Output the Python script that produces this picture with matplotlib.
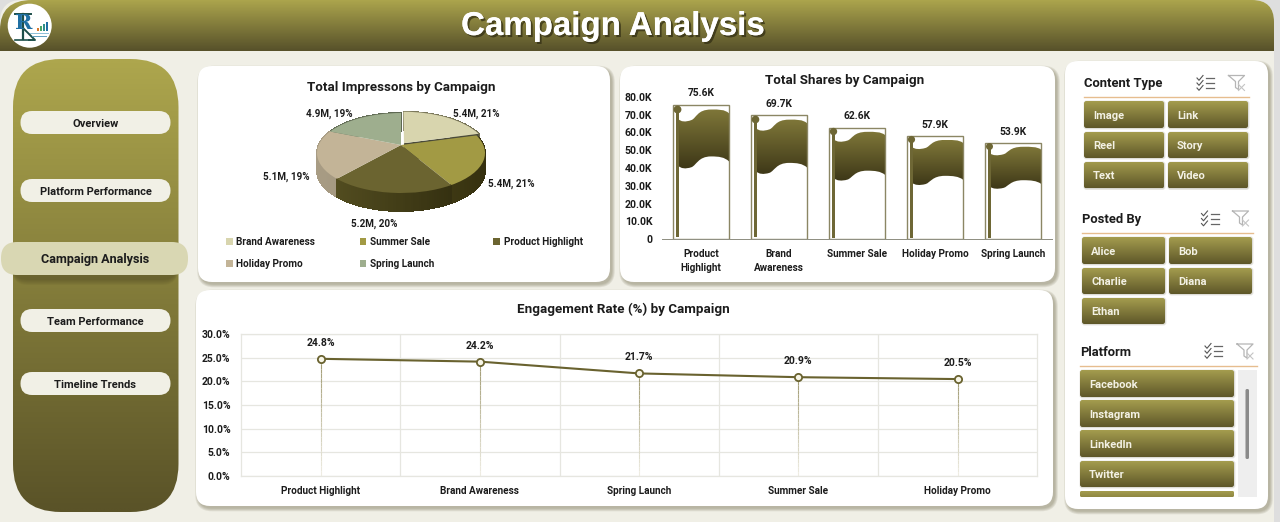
import numpy as np
import matplotlib
matplotlib.use("Agg")
import matplotlib.pyplot as plt
from matplotlib.patches import FancyBboxPatch, Rectangle, Circle, PathPatch
from matplotlib.path import Path
from matplotlib.transforms import Transform
from matplotlib.collections import PolyCollection, LineCollection
from matplotlib.colors import to_rgb
from matplotlib.legend import Legend
import matplotlib.patheffects as pe

# ---------- data ----------
pie_campaigns = ["Brand Awareness", "Summer Sale", "Product Highlight", "Holiday Promo", "Spring Launch"]
pie_millions = [5.4, 5.4, 5.2, 5.1, 4.9]
pie_percent = [21, 21, 20, 19, 19]
share_campaigns = ["Product\nHighlight", "Brand\nAwareness", "Summer Sale", "Holiday Promo", "Spring Launch"]
share_values = [75600, 69700, 62600, 57900, 53900]
rate_campaigns = ["Product Highlight", "Brand Awareness", "Spring Launch", "Summer Sale", "Holiday Promo"]
rate_values = [24.8, 24.2, 21.7, 20.9, 20.5]
nav_items = ["Overview", "Platform Performance", "Campaign Analysis", "Team Performance", "Timeline Trends"]
content_types = ["Image", "Link", "Reel", "Story", "Text", "Video"]
posted_by = ["Alice", "Bob", "Charlie", "Diana", "Ethan"]
platforms = ["Facebook", "Instagram", "LinkedIn", "Twitter"]

W, H = 1280, 522
FONT = "Roboto"
plt.rcParams["font.family"] = [FONT, "DejaVu Sans"]
INK = "#1c1c1c"

fig = plt.figure(figsize=(W / 100, H / 100), dpi=100, facecolor="#dedede")


def axes_px(x0, y0, x1, y1, **kw):
    return fig.add_axes([x0 / W, 1 - y1 / H, (x1 - x0) / W, (y1 - y0) / H], **kw)


cv = axes_px(0, 0, W, H)
cv.set_xlim(0, W)
cv.set_ylim(H, 0)
cv.axis("off")


def vgrad(c0, c1, n=64):
    a, b = np.array(to_rgb(c0)), np.array(to_rgb(c1))
    t = np.linspace(0, 1, n)[:, None, None]
    return a[None, None, :] * (1 - t) + b[None, None, :] * t


def rbox(x0, y0, x1, y1, r, **kw):
    p = FancyBboxPatch((x0, y0), x1 - x0, y1 - y0,
                       boxstyle=f"round,pad=0,rounding_size={r}", linewidth=0, **kw)
    cv.add_patch(p)
    return p


def gbox(x0, y0, x1, y1, r, c0, c1, z=2):
    p = rbox(x0, y0, x1, y1, r, facecolor="none", zorder=z)
    im = cv.imshow(vgrad(c0, c1), extent=(x0, x1, y1, y0), aspect="auto",
                   interpolation="bilinear", zorder=z)
    im.set_clip_path(p)
    return p


def shadow(x0, y0, x1, y1, r, dx=2, dy=2.5, z=1.5, col="#6f6b4c", n=4, a=0.13):
    for i in range(n, 0, -1):
        e = i * 0.9 - 0.8
        rbox(x0 + dx - e, y0 + dy - e, x1 + dx + e, y1 + dy + e, r + e,
             facecolor=col, alpha=a, zorder=z)


def card(x0, y0, x1, y1, r=14):
    shadow(x0, y0, x1, y1, r)
    rbox(x0, y0, x1, y1, r, facecolor="white", zorder=2)


# page, header, sidebar
rbox(0, 0, 1274, 560, 22, facecolor="#f0efe6", zorder=0.5)
hdr_clip = Path(
    [(0, 51), (0, 30), (0, 0), (32, 0), (1252, 0), (1274, 0), (1274, 22), (1274, 51), (0, 51)],
    [Path.MOVETO, Path.LINETO, Path.CURVE3, Path.CURVE3, Path.LINETO, Path.CURVE3, Path.CURVE3, Path.LINETO, Path.CLOSEPOLY])
cv.add_patch(PathPatch(hdr_clip, facecolor="#e0e0e0", lw=0, zorder=0.7))
im = cv.imshow(vgrad("#ada64d", "#57512a"), extent=(0, 1274, 51.5, 0), aspect="auto",
               interpolation="bilinear", zorder=1)
im.set_clip_path(hdr_clip, cv.transData)
cv.text(612.5, 26.5, "Campaign Analysis", ha="center", va="center", color="white",
        fontsize=23.8, fontweight="bold", family="Liberation Sans", zorder=5,
        path_effects=[pe.withSimplePatchShadow(offset=(1.5, -1.5), shadow_rgbFace="#2e2a12", alpha=0.7),
                      pe.Normal()])

# logo
cv.add_patch(Circle((29.7, 25.7), 22, facecolor="white", edgecolor="none", zorder=4))
cv.plot([15, 31], [14, 14], color="#1d4f4a", lw=1.4, zorder=5)
cv.plot([22.5, 22.5], [14, 39], color="#1d4f4a", lw=1.6, zorder=5)
cv.plot([24, 35, 29], [29, 40, 40], color="#1d4f4a", lw=1.4, zorder=5)
cv.plot([15, 30], [39.5, 39.5], color="#1d4f4a", lw=1.2, zorder=5)
cv.text(24, 23, "R", ha="center", va="center", color="#1f6fa3", fontsize=15, fontweight="bold",
        family="DejaVu Serif", zorder=5)
for bx, bh, bc in zip([36.5, 39.5, 42.5, 45.5], [3, 5, 7, 9], ["#d9772c", "#4aa564", "#2e8f8a", "#1f6fa3"]):
    cv.add_patch(Rectangle((bx, 31 - bh), 2.3, bh, facecolor=bc, lw=0, zorder=5))
cv.add_patch(Rectangle((30, 32.5), 19, 1.5, facecolor="#8fc0d8", lw=0, zorder=5))
cv.add_patch(Rectangle((32, 35.5), 15, 1.4, facecolor="#5f9fbf", lw=0, zorder=5))

# sidebar
gbox(13, 59, 178.5, 512, 48, "#ada64d", "#5a5328", z=2)
pill_y = [(111, 134), (179, 202), (242, 275), (309, 332), (372, 395)]
for i, (name, (y0, y1)) in enumerate(zip(nav_items, pill_y)):
    if i == 2:
        for k in range(6, 0, -1):
            rbox(12, y0 + 4 + k, 178, y1 + 4 + k, 16, facecolor="#3f3a1c", alpha=0.07, zorder=2.5)
        rbox(1, y0, 188, y1, 16, facecolor="#d9d7b3", zorder=3)
        cv.text(95, (y0 + y1) / 2 + 1.3, name, ha="center", va="center", color=INK, fontsize=9.1,
                fontweight="bold", zorder=4)
    else:
        rbox(20.5, y0, 170.5, y1, 11.5, facecolor="#f1f0e6", zorder=3)
        cv.text(95.5, (y0 + y1) / 2 + 1.2, name, ha="center", va="center", color=INK, fontsize=8,
                fontweight="bold", zorder=4)

# cards
card(198, 66, 610, 282)
card(620, 66, 1055, 282)
card(196, 290, 1053, 506)
card(1065, 61, 1268, 509, r=13)

for x, y, s in [(401, 88, "Total Impressons by Campaign"),
                (845, 80.3, "Total Shares by Campaign"),
                (623.5, 309.2, "Engagement Rate (%) by Campaign")]:
    cv.text(x, y, s, ha="center", va="center", color=INK, fontsize=9.65, fontweight="bold", zorder=6)


# slicers
def check_icon(x, y):
    for k in range(3):
        yy = y + 3 + k * 5
        cv.plot([x, x + 2, x + 6], [yy, yy + 2.3, yy - 2.5], color="#555555", lw=0.8, zorder=5)
        cv.plot([x + 9, x + 17], [yy, yy], color="#666666", lw=0.9, zorder=5)


def funnel_icon(x, y):
    cv.plot([x, x + 16, x + 10, x + 10, x + 7, x + 7, x], [y + 1, y + 1, y + 7, y + 15, y + 13, y + 7, y + 1],
            color="#b5b5b5", lw=0.9, zorder=5)
    cv.plot([x + 10, x + 16], [y + 10, y + 16], color="#c4c4c4", lw=0.8, zorder=5)
    cv.plot([x + 16, x + 10], [y + 10, y + 16], color="#c4c4c4", lw=0.8, zorder=5)


def slicer_head(title, x, y, x1, uy, ic, fc):
    cv.text(x, y, title, ha="left", va="center", color=INK, fontsize=9.4, fontweight="bold", zorder=5)
    cv.plot([x, x1], [uy, uy], color="#e6bd8f", lw=1.0, zorder=5)
    check_icon(*ic)
    funnel_icon(*fc)


def button(x0, y0, x1, y1, label):
    shadow(x0, y0, x1, y1, 2, dx=0.5, dy=0.5, z=2.5, n=2, a=0.15)
    gbox(x0, y0, x1, y1, 2.5, "#a49c4e", "#5e5729", z=3)
    cv.text(x0 + 9, (y0 + y1) / 2 + 1.2, label, ha="left", va="center", color="#f3f1e4",
            fontsize=8, fontweight="bold", zorder=5)


slicer_head("Content Type", 1084, 84, 1248.5, 96.5, (1197, 75), (1228.5, 74.5))
ct_rows = [(101, 128), (132, 158), (162, 188.5)]
for i, lab in enumerate(content_types):
    y0, y1 = ct_rows[i // 2]
    x0, x1 = [(1084, 1164), (1168, 1248)][i % 2]
    button(x0, y0, x1, y1, lab)

slicer_head("Posted By", 1082, 219.5, 1253, 232.5, (1201.5, 210.5), (1232.5, 210))
pb_rows = [(237, 264), (268, 294), (298, 324)]
for i, lab in enumerate(posted_by):
    y0, y1 = pb_rows[i // 2]
    x0, x1 = [(1082, 1165), (1169, 1252)][i % 2]
    button(x0, y0, x1, y1, lab)

slicer_head("Platform", 1080, 352.5, 1257, 365.5, (1205, 343), (1237, 343))
pf_rows = [(370, 397), (400, 427), (430, 457), (461, 487)]
for lab, (y0, y1) in zip(platforms, pf_rows):
    button(1080, y0, 1234, y1, lab)
gbox(1080, 491, 1234, 497, 1.5, "#a49c4e", "#8f8842", z=3)
cv.add_patch(Rectangle((1238, 370), 19, 127, facecolor="#eeeeee", lw=0, zorder=3))
rbox(1245.5, 389, 1249, 459, 1.5, facecolor="#8a8a8a", zorder=4)


# ---------- pie ----------
class PieProjection(Transform):
    """Perspective view of the unit pie, in pixels of the pie axes."""
    input_dims = 2
    output_dims = 2
    is_separable = False
    has_inverse = False

    def __init__(self, cx, cy, sx, sy, p):
        super().__init__()
        self.cx, self.cy, self.sx, self.sy, self.p = cx, cy, sx, sy, p

    def transform_non_affine(self, values):
        v = np.asarray(values, float)
        d = 1 + self.p * v[:, 1]
        return np.column_stack([self.cx + self.sx * v[:, 0] / d, self.cy - self.sy * v[:, 1] / d])


pie_ax = axes_px(198, 66, 610, 282)
pie_ax.patch.set_alpha(0)
top_colors = ["#d8d5ae", "#a29a44", "#6b6430", "#c3b497", "#9eae8e"]
wall_left = ["#8f8c6c", "#5f5924", "#575122", "#a89c84", "#66705a"]
wall_right = ["#6f6c50", "#35300f", "#2c280c", "#8f8570", "#55604a"]
explode = [0.06, 0, 0, 0, 0]
wedges, _ = pie_ax.pie(pie_millions, colors=top_colors, startangle=90, counterclock=False,
                       explode=explode, wedgeprops=dict(linewidth=0))
pie_ax.set_aspect("auto")
pie_ax.set_xlim(198, 610)
pie_ax.set_ylim(282, 66)
pie_ax.axis("off")
proj = PieProjection(401, 145, 82.3, 38.4, 0.2)
DEPTH = 18
wall_polys, wall_cols, wall_key = [], [], []
for i, w in enumerate(wedges):
    angs = np.radians(np.append(np.arange(w.theta1, w.theta2, 1.5), w.theta2))
    pts = proj.transform(np.column_stack([w.center[0] + np.cos(angs), w.center[1] + np.sin(angs)]))
    ca, cb = np.array(to_rgb(wall_left[i])), np.array(to_rgb(wall_right[i]))
    for j in range(len(angs) - 1):
        (xa, ya), (xb, yb) = pts[j], pts[j + 1]
        wall_polys.append([(xa, ya), (xb, yb), (xb, yb + DEPTH), (xa, ya + DEPTH)])
        t = np.clip(((xa + xb) / 2 - 317) / 168, 0, 1)
        wall_cols.append(ca * (1 - t) + cb * t)
        wall_key.append((ya + yb) / 2)
order = np.argsort(wall_key)
pie_ax.add_collection(PolyCollection([wall_polys[k] for k in order],
                                     facecolors=[wall_cols[k] for k in order],
                                     edgecolors=[wall_cols[k] for k in order],
                                     linewidths=0.6, antialiaseds=False, zorder=1))
# cut face of the pulled-out slice
w0 = wedges[0]
edge = proj.transform(np.array([[w0.center[0], w0.center[1]],
                                [w0.center[0] + np.cos(np.radians(w0.theta1)),
                                 w0.center[1] + np.sin(np.radians(w0.theta1))]]))
pie_ax.add_collection(PolyCollection([[tuple(edge[0]), tuple(edge[1]), (edge[1][0], edge[1][1] + DEPTH),
                                       (edge[0][0], edge[0][1] + DEPTH)]],
                                     facecolors="#4a4a3a", edgecolors="none", zorder=1.5))
for i, w in enumerate(wedges):
    w.set_transform(proj + pie_ax.transData)
    w.set_clip_on(False)
    w.set_zorder(2)
label_xy = [(476, 113.7), (511.7, 184.3), (374.3, 224.3), (286.3, 176.7), (329.7, 113.7)]
for (lx, ly), m, pc in zip(label_xy, pie_millions, pie_percent):
    pie_ax.text(lx, ly, f"{m:.1f}M, {pc}%", ha="center", va="center", color=INK, fontsize=7.1,
                fontweight="bold")
for col_x, idx in zip([226, 359.5, 493], [[0, 3], [1, 4], [2]]):
    leg = Legend(pie_ax, [wedges[k] for k in idx], [pie_campaigns[k] for k in idx], ncol=1, frameon=False,
                 loc="upper left", bbox_to_anchor=(col_x, 236.8), bbox_transform=pie_ax.transData,
                 borderpad=0, borderaxespad=0, handlelength=0.65, handleheight=0.65,
                 handletextpad=0.4, labelspacing=1.25, prop=dict(weight="bold", size=7.2))
    for t in leg.get_texts():
        t.set_color(INK)
    pie_ax.add_artist(leg)

# ---------- bars ----------
bar_ax = axes_px(662, 96.7, 1052, 239.3)
bar_ax.patch.set_alpha(0)
xs = np.arange(len(share_values))
bars = bar_ax.bar(xs, share_values, width=0.718, facecolor="none", edgecolor="#8b8664", linewidth=1.0, zorder=3)
FLAG_V = [(.095, .893), (.14, .872), (.22, .868), (.33, .885), (.42, .90), (.43, .963), (.68, .963),
          (.82, .963), (.92, .965), (1.0, .935), (1.0, .578), (.92, .61), (.82, .615), (.68, .615),
          (.45, .615), (.42, .55), (.33, .535), (.22, .52), (.14, .525), (.095, .546), (.095, .893)]
FLAG_C = [Path.MOVETO] + [Path.CURVE4] * 9 + [Path.LINETO] + [Path.CURVE4] * 9 + [Path.CLOSEPOLY]
for b in bars:
    bx, bw, bh = b.get_x(), b.get_width(), b.get_height()
    verts = np.array(FLAG_V) * [bw, bh] + [bx, 0]
    path = Path(verts, FLAG_C)
    fim = bar_ax.imshow(vgrad("#7f7739", "#3d3717"), extent=(bx, bx + bw, .52 * bh, .965 * bh), aspect="auto",
                        interpolation="bilinear", zorder=2)
    fim.set_clip_path(path, bar_ax.transData)
    bar_ax.add_patch(Rectangle((bx + .048 * bw, .015 * bh), .052 * bw, .955 * bh, facecolor="#6e6735", lw=0, zorder=2.5))
    bar_ax.scatter([bx + .071 * bw], [.968 * bh], s=32 * (bh / 75600) ** 0.7, color="#6e6735", linewidths=0, zorder=4)
    bar_ax.annotate(f"{bh / 1000:.1f}K", (b.get_x() + bw / 2, bh), xytext=(0, 8.3), textcoords="offset points",
                    ha="center", va="center", fontsize=7.4, fontweight="bold", color=INK, annotation_clip=False)
bar_ax.set_xlim(-0.5, 4.5)
bar_ax.set_ylim(0, 80000)
bar_ax.set_yticks(np.arange(0, 80001, 10000))
bar_ax.set_yticklabels(["0"] + [f"{v / 1000:.1f}K" for v in np.arange(10000, 80001, 10000)])
bar_ax.set_xticks(xs)
bar_ax.set_xticklabels(share_campaigns, linespacing=1.5)
bar_ax.tick_params(axis="y", length=0, pad=7, labelsize=7.6, labelcolor=INK)
bar_ax.tick_params(axis="x", length=0, pad=7, labelsize=7.2, labelcolor=INK)
for lab in bar_ax.get_xticklabels() + bar_ax.get_yticklabels():
    lab.set_fontweight("bold")
for s in ["top", "left", "right"]:
    bar_ax.spines[s].set_visible(False)
bar_ax.spines["bottom"].set_color("#8d8d80")
bar_ax.spines["bottom"].set_linewidth(0.7)

# ---------- line ----------
ln_ax = axes_px(241, 334.3, 1037.3, 475.7)
ln_ax.patch.set_alpha(0)
lx = np.arange(len(rate_values))
for x, v in zip(lx, rate_values):
    ys = np.linspace(v, 0, 25)
    segs = [[(x, ys[k]), (x, ys[k + 1])] for k in range(24)]
    tt = np.linspace(0, 1, 24)[:, None]
    cols = np.array(to_rgb("#a09a72")) * (1 - tt) + np.array(to_rgb("#eeece2")) * tt
    ln_ax.add_collection(LineCollection(segs, colors=cols, linewidths=0.8, zorder=2))
ln_ax.plot(lx, rate_values, color="#69622f", lw=1.5, marker="o", ms=5.2, mfc="#f7f5e6", mec="#69622f", mew=1.3, zorder=3)
for x, v in zip(lx, rate_values):
    ln_ax.annotate(f"{v:.1f}%", (x, v), xytext=(0, 11.5), textcoords="offset points", ha="center", va="center",
                   fontsize=7.5, fontweight="bold", color=INK)
ln_ax.set_xlim(-0.5, 4.5)
ln_ax.set_ylim(0, 30)
ln_ax.set_yticks(np.arange(0, 31, 5))
ln_ax.set_yticklabels([f"{v:.1f}%" for v in np.arange(0, 31, 5)])
ln_ax.set_xticks(lx)
ln_ax.set_xticklabels(rate_campaigns)
ln_ax.set_xticks(lx[:-1] + 0.5, minor=True)
ln_ax.grid(True, axis="y", color="#e6e6e0", lw=0.9, zorder=1)
ln_ax.grid(True, axis="x", which="minor", color="#e6e6e0", lw=0.9, zorder=1)
ln_ax.grid(False, axis="x", which="major")
ln_ax.set_axisbelow(True)
ln_ax.tick_params(axis="y", which="both", length=0, labelsize=7.5, labelcolor=INK, pad=7.5)
ln_ax.tick_params(axis="x", which="both", length=0, labelsize=7.2, labelcolor=INK, pad=7.5)
for lab in ln_ax.get_xticklabels() + ln_ax.get_yticklabels():
    lab.set_fontweight("bold")
for s in ln_ax.spines.values():
    s.set_color("#e6e6e0")
    s.set_linewidth(0.9)

cv.set_xlim(0, W)
cv.set_ylim(H, 0)
fig.savefig("out.png", dpi=100, facecolor=fig.get_facecolor())
